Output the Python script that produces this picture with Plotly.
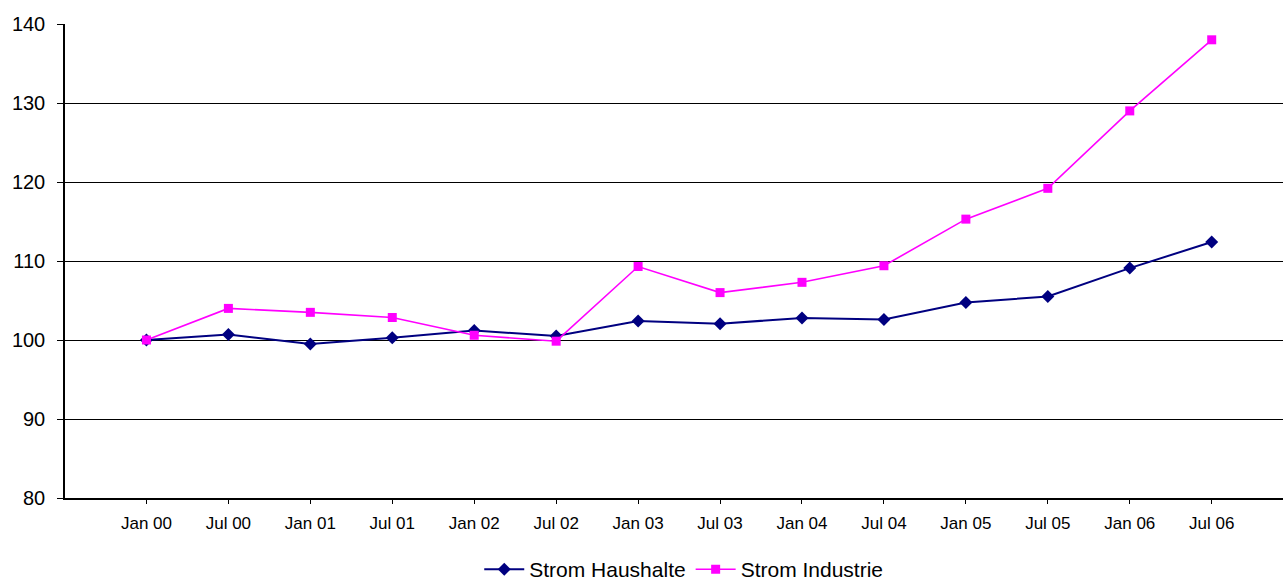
import plotly.graph_objects as go

categories = ["Jan 00", "Jul 00", "Jan 01", "Jul 01", "Jan 02", "Jul 02", "Jan 03",
              "Jul 03", "Jan 04", "Jul 04", "Jan 05", "Jul 05", "Jan 06", "Jul 06"]
haushalte = [100.0, 100.7, 99.5, 100.3, 101.2, 100.5, 102.4,
             102.05, 102.8, 102.6, 104.75, 105.5, 109.1, 112.4]
industrie = [100.0, 104.0, 103.5, 102.85, 100.6, 99.85, 109.3,
             106.0, 107.3, 109.4, 115.3, 119.2, 129.0, 138.0]
y_ticks = [80, 90, 100, 110, 120, 130, 140]

idx = list(range(len(categories)))

fig = go.Figure()
fig.add_trace(go.Scatter(
    x=idx, y=haushalte, name="Strom Haushalte", mode="lines+markers",
    line=dict(color="#000080", width=2),
    marker=dict(symbol="diamond", size=10, color="#000080"),
))
fig.add_trace(go.Scatter(
    x=idx, y=industrie, name="Strom Industrie", mode="lines+markers",
    line=dict(color="#FF00FF", width=1.6),
    marker=dict(symbol="square", size=9, color="#FF00FF"),
))

fig.update_layout(
    width=1283, height=583,
    margin=dict(l=65, r=0, t=24, b=85, autoexpand=False),
    paper_bgcolor="white", plot_bgcolor="white",
    font=dict(family="Liberation Sans, Arial, sans-serif", color="black"),
    showlegend=True,
    legend=dict(orientation="h", x=0.508, xanchor="center", y=-0.151, yanchor="middle",
                font=dict(size=21), itemwidth=40, tracegroupgap=0),
)
fig.update_xaxes(
    range=[-0.994, 13.87], tickmode="array", tickvals=idx, ticktext=categories,
    tickfont=dict(size=17), ticks="outside", ticklen=4, tickcolor="black",
    ticklabelstandoff=5,
    showgrid=False, showline=True, linecolor="black", linewidth=2, zeroline=False,
)
fig.update_yaxes(
    range=[80, 140], tickmode="array", tickvals=y_ticks,
    tickfont=dict(size=20), ticks="outside", ticklen=6, tickcolor="black",
    ticklabelstandoff=8,
    showgrid=True, gridcolor="black", gridwidth=1,
    showline=True, linecolor="black", linewidth=1.5, zeroline=False,
)

fig.write_html("out.html")
